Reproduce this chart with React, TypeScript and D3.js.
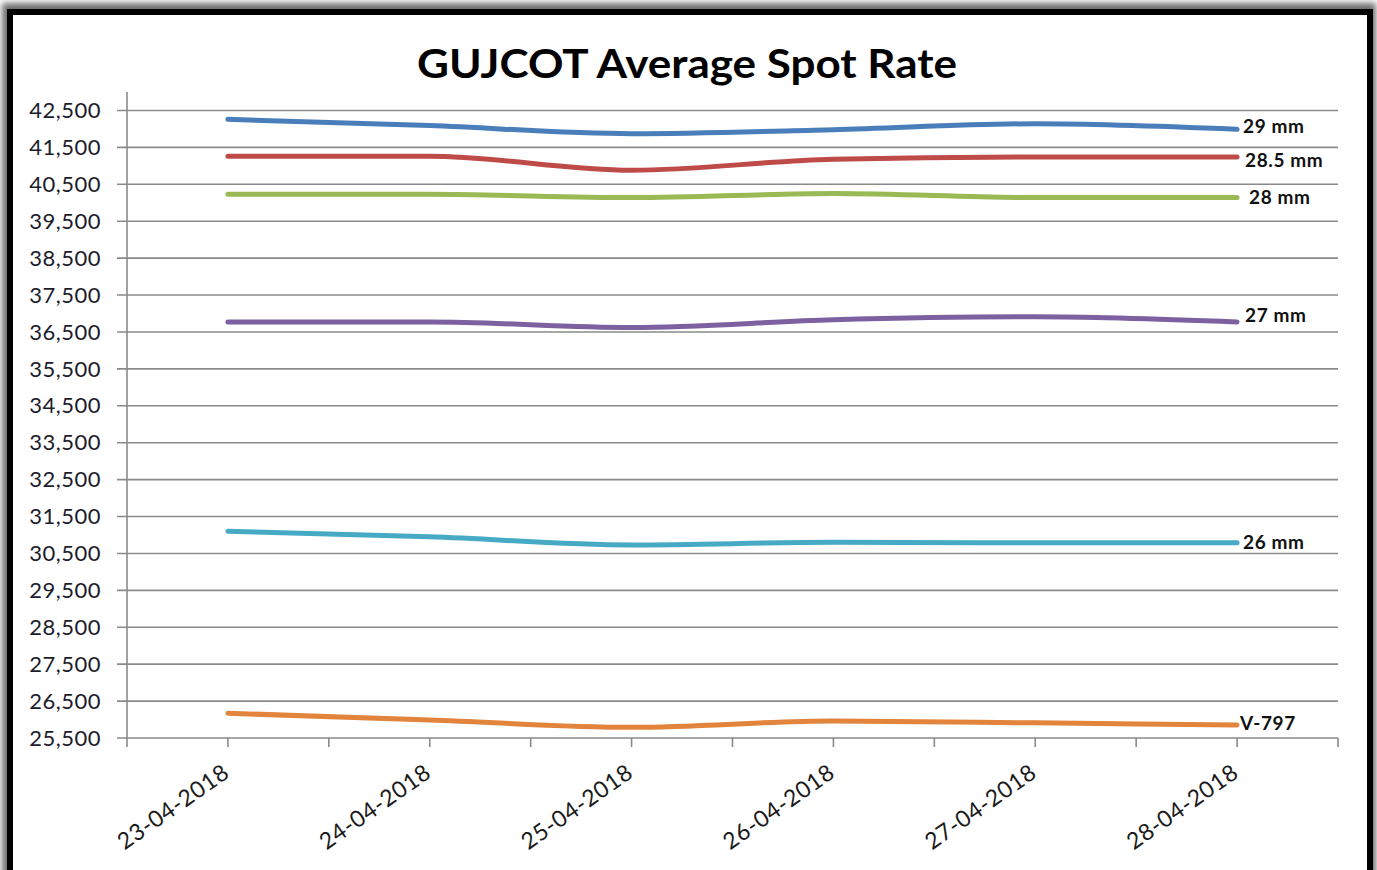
import * as d3 from "d3";

const dates = ["23-04-2018", "24-04-2018", "25-04-2018", "26-04-2018", "27-04-2018", "28-04-2018"];

const seriesNames = ["29 mm", "28.5 mm", "28 mm", "27 mm", "26 mm", "V-797"];

const mm29 = [42260, 42090, 41870, 41980, 42140, 41990];
const mm285 = [41260, 41260, 40880, 41180, 41240, 41240];
const mm28 = [40230, 40230, 40140, 40250, 40140, 40140];
const mm27 = [36770, 36770, 36620, 36830, 36910, 36770];
const mm26 = [31100, 30950, 30730, 30800, 30790, 30790];
const v797 = [26170, 25990, 25790, 25960, 25910, 25850];

const yTicks = d3.range(25500, 42501, 1000);

// excel 2010 palette
const colors = ["#4A7EBB", "#BE4B48", "#98B954", "#7D60A0", "#46AAC5", "#E2843C"];
// small nudges so the end labels sit like in the original
const labelNudge = [[6, -3], [8, 3], [12, 0], [8, -7], [6, 0], [3, -2]];

export default function App() {
  const width = 1377;
  const height = 870;
  const left = 127;
  const right = 1338;
  const top = 92;
  const bottom = 738;

  const all = [mm29, mm285, mm28, mm27, mm26, v797];
  const series = seriesNames.map((name, i) => ({ name, values: all[i], color: colors[i] }));

  const x = d3.scaleBand().domain(dates).range([left, right]).padding(0);
  const bw = x.bandwidth();
  const cx = (d: string) => (x(d) as number) + bw / 2;
  const y = d3.scaleLinear().domain([25500, 43000]).range([bottom, top]);

  const line = d3
    .line<number>()
    .x((d, i) => cx(dates[i]))
    .y((d) => y(d))
    .curve(d3.curveMonotoneX);

  const fmt = d3.format(",");
  const xTickPos = d3.range(0, dates.length * 2 + 1).map((k) => left + (k * bw) / 2);

  return (
    <div style={{ position: "absolute", left: 0, top: 0 }}>
      <svg width={width} height={height} style={{ display: "block" }}>
        <defs>
          <filter id="shadow" x="-5%" y="-5%" width="110%" height="110%">
            <feGaussianBlur stdDeviation="3" />
          </filter>
        </defs>
        <rect x={0} y={0} width={width} height={height} fill="#ffffff" />
        <rect x={2} y={3} width={1374} height={900} fill="#6e6e6e" filter="url(#shadow)" />
        <rect x={10} y={12} width={1360} height={900} fill="#ffffff" stroke="#000" strokeWidth={6} />

        <text
          x={687}
          y={78}
          textAnchor="middle"
          fontFamily="Lato, 'Open Sans', sans-serif"
          fontWeight="bold"
          fontSize={41}
          textLength={540}
          lengthAdjust="spacingAndGlyphs"
          fill="#000"
        >
          GUJCOT Average Spot Rate
        </text>

        {/* gridlines + y labels */}
        {yTicks.map((t) => (
          <g key={t}>
            <line x1={left - 10} x2={right} y1={y(t)} y2={y(t)} stroke="#8a8a8a" strokeWidth={1.6} />
            <text
              x={101}
              y={y(t)}
              dy="0.35em"
              textAnchor="end"
              fontFamily="Lato, sans-serif"
              fontSize={22}
              letterSpacing={0.5}
              fill="#1c1c2c"
            >
              {fmt(t)}
            </text>
          </g>
        ))}

        {/* axes */}
        <line x1={left} x2={left} y1={top} y2={bottom} stroke="#8a8a8a" strokeWidth={1.6} />
        {xTickPos.map((p, i) => (
          <line key={i} x1={p} x2={p} y1={bottom} y2={bottom + 9} stroke="#8a8a8a" strokeWidth={1.6} />
        ))}
        {dates.map((d) => (
          <text
            key={d}
            transform={`translate(${cx(d) + 3},${bottom + 38}) rotate(-35)`}
            textAnchor="end"
            fontFamily="Lato, sans-serif"
            fontSize={23}
            letterSpacing={0.6}
            fill="#1a1a1a"
          >
            {d}
          </text>
        ))}

        {/* series */}
        {series.map((s, i) => (
          <g key={s.name}>
            <path d={line(s.values) || ""} fill="none" stroke={s.color} strokeWidth={5} strokeLinecap="round" />
            <text
              x={cx(dates[dates.length - 1]) + labelNudge[i][0]}
              y={y(s.values[s.values.length - 1]) + labelNudge[i][1]}
              dy="0.35em"
              fontFamily="Lato, sans-serif"
              fontWeight="bold"
              fontSize={19}
              letterSpacing={0.6}
              fill="#111"
            >
              {s.name}
            </text>
          </g>
        ))}
      </svg>
    </div>
  );
}
